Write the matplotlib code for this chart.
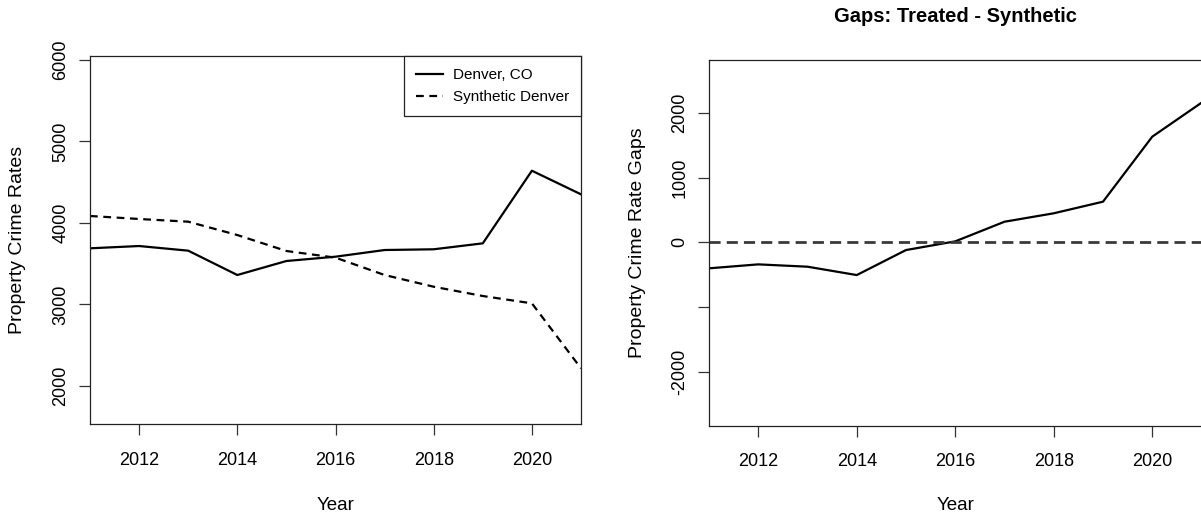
import matplotlib
matplotlib.use("Agg")
import matplotlib.pyplot as plt

plt.rcParams['font.family'] = ['Liberation Sans', 'DejaVu Sans']

years = [2011, 2012, 2013, 2014, 2015, 2016, 2017, 2018, 2019, 2020, 2021]
denver = [3688, 3716, 3659, 3360, 3532, 3585, 3667, 3676, 3749, 4641, 4351]
synthetic = [4085, 4048, 4015, 3851, 3655, 3573, 3360, 3216, 3102, 3012, 2214]
gaps = [-401, -340, -376, -505, -119, 15, 318, 448, 627, 1630, 2154]

x_ticks = [2012, 2014, 2016, 2018, 2020]
left_yticks = [2000, 3000, 4000, 5000, 6000]
right_yticks = [-2000, -1000, 0, 1000, 2000]
right_yticklabels = ['-2000', '', '0', '1000', '2000']

W, H = 1201, 517
fig = plt.figure(figsize=(W / 100, H / 100), dpi=100)

def px_axes(l, t, r, b):
    return fig.add_axes([l / W, 1 - b / H, (r - l) / W, (b - t) / H])

ax1 = px_axes(90, 56, 581, 424)
ax2 = px_axes(709, 60, 1201.5, 425.7)

LW = 1.6
for ax in (ax1, ax2):
    for s in ax.spines.values():
        s.set_linewidth(0.9)
        s.set_color('#222222')
    ax.set_xlim(2011, 2021)
    ax.set_xticks(x_ticks)
    ax.set_xticklabels([str(v) for v in x_ticks])
    ax.tick_params(axis='both', length=8, width=0.9, color='#333333',
                   labelsize=13, pad=12)
    ax.tick_params(axis='y', labelrotation=90, pad=7)
    ax.set_xlabel('Year', fontsize=13.5, va='center')

# Left panel
ax1.plot(years, denver, color='black', lw=LW, label='Denver, CO')
ax1.plot(years, synthetic, color='black', lw=LW, dashes=(3.5, 2.5),
         label='Synthetic Denver')
ax1.set_ylim(1530, 6050)
ax1.set_yticks(left_yticks)
ax1.set_yticklabels([str(v) for v in left_yticks], va='center')
ax1.set_ylabel('Property Crime Rates', fontsize=14, va='center')
ax1.yaxis.set_label_coords(-73 / 491, 0.5)
ax1.xaxis.set_label_coords(0.5, -(505 - 424) / 368)
leg = ax1.legend(loc='upper right', bbox_to_anchor=(1, 1), borderaxespad=0,
                 fontsize=11, frameon=True, fancybox=False, framealpha=1,
                 edgecolor='#222222', handlelength=1.8, handletextpad=0.6,
                 borderpad=0.8, labelspacing=0.5)
leg.get_frame().set_linewidth(0.9)

# Right panel
ax2.plot(years, gaps, color='black', lw=LW)
ax2.axhline(0, color='#3a3a3a', lw=2.0, dashes=(4, 2.2))
ax2.set_ylim(-2829, 2813)
ax2.set_yticks(right_yticks)
ax2.set_yticklabels(right_yticklabels, va='center')
ax2.set_ylabel('Property Crime Rate Gaps', fontsize=14, va='center')
ax2.yaxis.set_label_coords(-72 / 492.5, 0.5)
ax2.xaxis.set_label_coords(0.5, -(505 - 425.7) / 365.7)
ax2.set_title('Gaps: Treated - Synthetic', fontsize=14.5, fontweight='bold',
              y=(425.7 - 16) / 365.7, va='center', pad=0)

fig.savefig('out.png', dpi=100)
